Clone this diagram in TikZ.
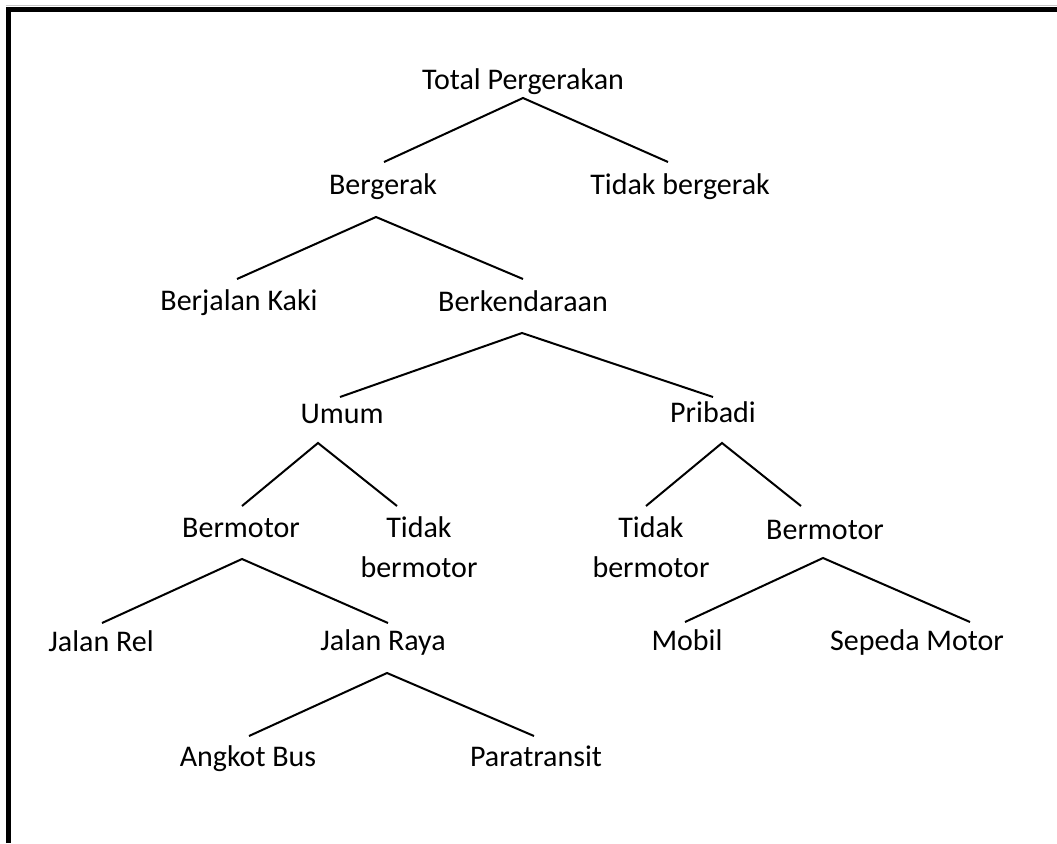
\documentclass[tikz,border=0pt]{standalone}
\usepackage{fontspec}
\setmainfont{Carlito}
\usetikzlibrary{calc}
\tikzset{
  lbl/.style={anchor=base, inner sep=0pt, outer sep=0pt, align=center,
    font=\fontsize{30}{40}\selectfont},
  branch/.style={line width=2pt, line cap=butt},
  frameline/.style={line width=4.8pt, line join=miter}
}
\begin{document}
\begin{tikzpicture}[x=1pt, y=-1pt]
\useasboundingbox (0,0) rectangle (1057,843);
% frame (top and left only)
\draw[gray!45, line width=1pt] (6,6) -- (1057,6);
\draw[gray!45, line width=1pt] (10.8,12) -- (10.8,843);
\draw[frameline] (8.2,843) -- (8.2,9.6) -- (1057,9.6);

% nodes
\node[lbl] (tp)     at (523,89)  {Total Pergerakan};
\node[lbl] (berg)   at (383,194) {Bergerak};
\node[lbl] (tidakb) at (680,194) {Tidak bergerak};
\node[lbl] (jalan)  at (239,310) {Berjalan Kaki};
\node[lbl] (kend)   at (523,311) {Berkendaraan};
\node[lbl] (umum)   at (342,423) {Umum};
\node[lbl] (prib)   at (713,422) {Pribadi};
\node[lbl] (bmL)    at (241,537) {Bermotor};
\node[lbl] (tbL)    at (419,577) {Tidak\\bermotor};
\node[lbl] (tbR)    at (651,577) {Tidak\\bermotor};
\node[lbl] (bmR)    at (825,539) {Bermotor};
\node[lbl] (rel)    at (101,651) {Jalan Rel};
\node[lbl] (raya)   at (383,650) {Jalan Raya};
\node[lbl] (mobil)  at (687,650) {Mobil};
\node[lbl] (sepeda) at (917,650) {Sepeda Motor};
\node[lbl] (angkot) at (248,766) {Angkot Bus};
\node[lbl] (para)   at (536,766) {Paratransit};

% connectors
\draw[branch] ($(berg.base)+(1,-32)$) -- ($(tp.base)+(0,9)$) -- ($(tidakb.base)+(-12,-32)$);
\draw[branch] ($(jalan.base)+(-2,-31)$) -- ($(berg.base)+(-7,23)$) -- ($(kend.base)+(0,-32)$);
\draw[branch] ($(umum.base)+(-2,-26)$) -- ($(kend.base)+(-1,22)$) -- ($(prib.base)+(0,-25)$);
\draw[branch] ($(bmL.base)+(1,-31)$) -- ($(umum.base)+(-24,20)$) -- ($(tbL.base)+(-22,-71)$);
\draw[branch] ($(tbR.base)+(-5,-71)$) -- ($(prib.base)+(9,21)$) -- ($(bmR.base)+(-24,-33)$);
\draw[branch] ($(rel.base)+(1,-28)$) -- ($(bmL.base)+(1,22)$) -- ($(raya.base)+(5,-27)$);
\draw[branch] ($(mobil.base)+(-2,-28)$) -- ($(bmR.base)+(-2,19)$) -- ($(sepeda.base)+(53,-28)$);
\draw[branch] ($(angkot.base)+(1,-30)$) -- ($(raya.base)+(4,23)$) -- ($(para.base)+(-2,-30)$);
\end{tikzpicture}
\end{document}
